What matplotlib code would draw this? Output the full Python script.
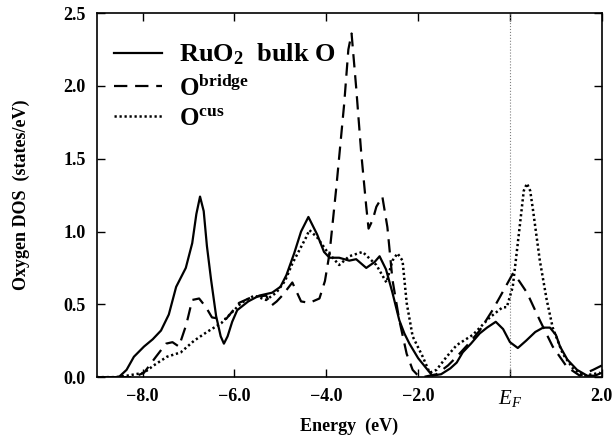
import matplotlib
matplotlib.use('Agg')
import matplotlib.pyplot as plt

plt.rcParams['font.family'] = ['Liberation Serif', 'DejaVu Serif']
plt.rcParams['font.weight'] = 'bold'
plt.rcParams['mathtext.fontset'] = 'custom'
plt.rcParams['mathtext.rm'] = 'Liberation Serif:weight=bold'
plt.rcParams['mathtext.bf'] = 'Liberation Serif:weight=bold'
plt.rcParams['mathtext.it'] = 'Liberation Serif:style=italic:weight=normal'

# bulk O (solid)
e_bulk = [-9.0, -8.7, -8.52, -8.35, -8.19, -7.97, -7.78, -7.6, -7.43, -7.27, -7.06, -6.92,
          -6.83, -6.75, -6.67, -6.6, -6.51, -6.4, -6.3, -6.23, -6.15, -6.05, -5.94, -5.7,
          -5.46, -5.18, -5.0, -4.87, -4.7, -4.55, -4.39, -4.2, -4.05, -3.93, -3.72, -3.5,
          -3.35, -3.13, -2.95, -2.84, -2.7, -2.56, -2.41, -2.3, -2.19, -2.0, -1.82, -1.69,
          -1.5, -1.3, -1.16, -1.03, -0.85, -0.66, -0.5, -0.31, -0.15, 0.0, 0.17, 0.35, 0.55,
          0.72, 0.87, 1.0, 1.09, 1.25, 1.46, 1.68, 1.85, 2.0]
dos_bulk = [0.0, 0.0, 0.0, 0.05, 0.14, 0.21, 0.26, 0.32, 0.43, 0.62, 0.75, 0.92,
            1.12, 1.24, 1.14, 0.9, 0.67, 0.42, 0.28, 0.23, 0.28, 0.38, 0.46, 0.52,
            0.56, 0.58, 0.62, 0.70, 0.85, 1.0, 1.10, 0.98, 0.86, 0.82, 0.82, 0.80,
            0.81, 0.75, 0.79, 0.83, 0.74, 0.58, 0.39, 0.30, 0.23, 0.13, 0.06, 0.01,
            0.02, 0.06, 0.10, 0.17, 0.23, 0.30, 0.34, 0.38, 0.33, 0.24, 0.20, 0.25, 0.31,
            0.34, 0.34, 0.29, 0.21, 0.12, 0.05, 0.01, 0.01, 0.03]

# O bridge (dashed)
e_br = [-9.0, -8.5, -8.2, -7.97, -7.71, -7.49, -7.35, -7.21, -7.05, -6.92, -6.77, -6.62,
        -6.49, -6.3, -6.18, -6.05, -5.9, -5.62, -5.31, -5.2, -5.08, -4.96, -4.74, -4.55,
        -4.37, -4.15, -4.03, -3.93, -3.78, -3.61, -3.52, -3.45, -3.35, -3.24, -3.13, -3.08,
        -2.99, -2.91, -2.78, -2.67, -2.56, -2.41, -2.25, -2.12, -2.03, -1.9, -1.6, -1.35,
        -1.16, -0.9, -0.66, -0.38, -0.22, -0.08, 0.06, 0.2, 0.37, 0.65, 0.93, 1.24, 1.52,
        1.81, 2.0]
dos_br = [0.0, 0.0, 0.0, 0.03, 0.14, 0.23, 0.24, 0.21, 0.36, 0.53, 0.54, 0.48,
          0.41, 0.40, 0.40, 0.45, 0.51, 0.55, 0.56, 0.49, 0.52, 0.56, 0.65, 0.52,
          0.51, 0.54, 0.66, 0.85, 1.31, 1.88, 2.25, 2.36, 1.99, 1.54, 1.17, 1.02,
          1.08, 1.17, 1.24, 1.03, 0.67, 0.39, 0.16, 0.05, 0.02, 0.0, 0.02, 0.08,
          0.14, 0.23, 0.32, 0.46, 0.55, 0.63, 0.71, 0.66, 0.58, 0.39, 0.21, 0.07, 0.01,
          0.05, 0.08]

# O cus (dotted)
e_cus = [-9.0, -8.6, -8.34, -7.97, -7.76, -7.47, -7.17, -6.88, -6.6, -6.29, -6.07, -5.85,
         -5.57, -5.31, -5.09, -4.9, -4.74, -4.44, -4.37, -4.2, -4.0, -3.72, -3.5, -3.21,
         -2.91, -2.69, -2.56, -2.45, -2.34, -2.25, -2.12, -1.9, -1.75, -1.6, -1.38, -1.16,
         -0.81, -0.44, -0.16, -0.07, 0.06, 0.21, 0.3, 0.37, 0.44, 0.5, 0.65, 0.8, 0.93,
         1.15, 1.37, 1.59, 1.8, 1.96]
dos_cus = [0.0, 0.0, 0.01, 0.03, 0.08, 0.14, 0.17, 0.25, 0.31, 0.37, 0.44, 0.51,
           0.56, 0.53, 0.58, 0.66, 0.78, 0.96, 1.01, 0.96, 0.87, 0.77, 0.83, 0.86,
           0.77, 0.65, 0.80, 0.85, 0.80, 0.51, 0.28, 0.14, 0.03, 0.05, 0.14, 0.22,
           0.29, 0.41, 0.48, 0.48, 0.62, 1.03, 1.28, 1.33, 1.28, 1.15, 0.80, 0.53, 0.34,
           0.16, 0.06, 0.01, 0.02, 0.03]

x_ticks = [-8, -6, -4, -2, 0, 2]
x_labels = ['\u22128.0', '\u22126.0', '\u22124.0', '\u22122.0', '$E_F$', '2.0']
y_ticks = [0.0, 0.5, 1.0, 1.5, 2.0, 2.5]

fig = plt.figure(figsize=(6.16, 4.37), dpi=100)
ax = fig.add_axes([0.157, 0.137, 0.82, 0.833])

ax.axvline(0, color='gray', linestyle=':', linewidth=0.8)
ax.plot(e_bulk, dos_bulk, color='black', linewidth=1.6, linestyle='-', label='RuO$_2$  bulk O')
ax.plot(e_br, dos_br, color='black', linewidth=1.6, linestyle=(0, (6, 3.5)),
        label=r'O$^{\mathrm{bridge}}$')
ax.plot(e_cus, dos_cus, color='black', linewidth=1.8, linestyle=(0, (0.9, 1.1)),
        label=r'O$^{\mathrm{cus}}$')

ax.set_xlim(-9, 2)
ax.set_ylim(0, 2.5)
ax.set_xticks(x_ticks)
ax.set_xticklabels(x_labels)
ax.set_yticks(y_ticks)
ax.set_yticklabels([f'{v:.1f}' for v in y_ticks])
ax.tick_params(direction='in', top=True, right=True, length=6, width=1, labelsize=13, pad=8)
ax.get_xticklabels()[4].set_fontsize(15)
for s in ax.spines.values():
    s.set_linewidth(1.2)

ax.set_xlabel('Energy  (eV)', fontsize=13, fontweight='bold', labelpad=6)
ax.set_ylabel('Oxygen DOS  (states/eV)', fontsize=13, fontweight='bold', labelpad=24)

leg = ax.legend(loc='upper left', frameon=False, fontsize=18, handlelength=1.9,
                handletextpad=0.7, labelspacing=0.3, borderaxespad=0.3,
                bbox_to_anchor=(0.0, 0.97))
leg.get_texts()[0].set_fontsize(19)

fig.savefig('out.png', dpi=100)
